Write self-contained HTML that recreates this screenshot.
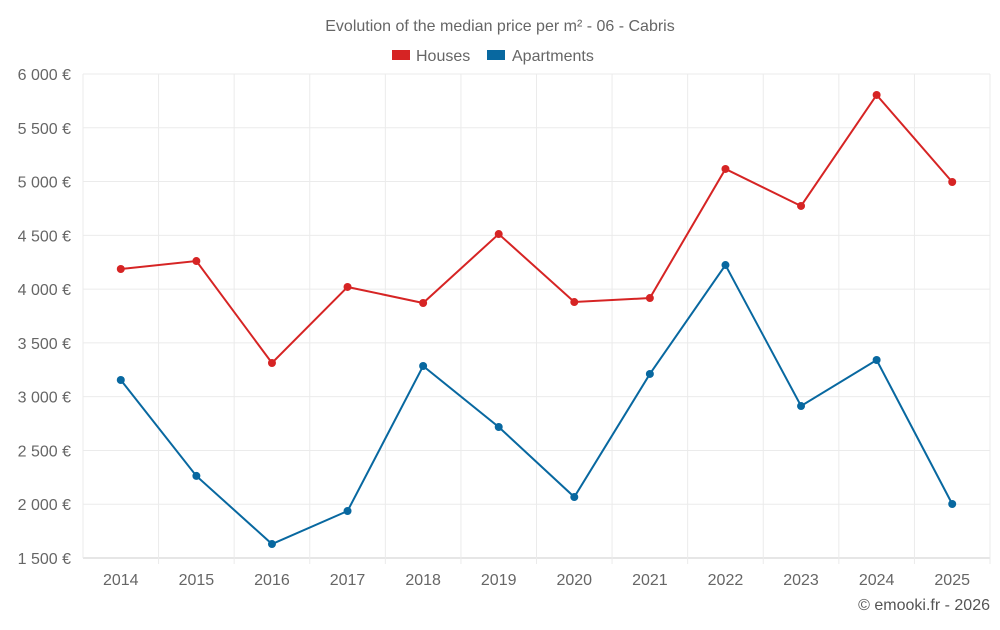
<!DOCTYPE html>
<html><head><meta charset="utf-8">
<style>
body{margin:0;background:#fff;font-family:"Liberation Sans",sans-serif;}
svg text{font-family:"Liberation Sans",sans-serif;}
</style></head>
<body>
<svg id="chart" width="1000" height="625" xmlns="http://www.w3.org/2000/svg">
<rect width="1000" height="625" fill="#fff"/>
<text x="500" y="31" text-anchor="middle" font-size="16" fill="#666">Evolution of the median price per m² - 06 - Cabris</text>
<g>
<g><rect x="392" y="50" width="18" height="10" fill="#d62424"/><text x="416" y="61" font-size="16" fill="#666">Houses</text></g>
<g><rect x="487" y="50" width="18" height="10" fill="#0868a0"/><text x="512" y="61" font-size="16" fill="#666">Apartments</text></g>
</g>
<g id="grid"></g><g id="axes"></g><g id="series"></g>
<text x="990" y="610" text-anchor="end" font-size="16" fill="#555">© emooki.fr - 2026</text>
</svg>
<script>
const years=['2014','2015','2016','2017','2018','2019','2020','2021','2022','2023','2024','2025'];
const houses=[4187,4261,3313,4020,3871,4512,3880,3917,5117,4773,5805,4996];
const apartments=[3155,2263,1630,1937,3285,2718,2067,3211,4224,2913,3341,2002];
const yTicks=[1500,2000,2500,3000,3500,4000,4500,5000,5500,6000];
const yTickLabels=['1 500 €','2 000 €','2 500 €','3 000 €','3 500 €','4 000 €','4 500 €','5 000 €','5 500 €','6 000 €'];
const L=83,R=990,T=74,B=558,yMin=1500,yMax=6000;
const bw=(R-L)/years.length;
function xs(i){return L+bw*(i+0.5);}
function ys(v){return B-(v-yMin)/(yMax-yMin)*(B-T);}
const NS='http://www.w3.org/2000/svg';
function mk(tag,attrs,parent){const e=document.createElementNS(NS,tag);for(const k in attrs)e.setAttribute(k,attrs[k]);parent.appendChild(e);return e;}
const grid=document.getElementById('grid'),axes=document.getElementById('axes'),series=document.getElementById('series');
yTicks.forEach((v,i)=>{
 const l=mk('line',{x1:L,x2:R,y1:ys(v),y2:ys(v),stroke:i==0?'#ccc':'#ebebeb','stroke-width':1},grid);
 
 
 const t=mk('text',{x:L-12,y:ys(v)+6,'text-anchor':'end','font-size':16,fill:'#666'},axes);
 t.textContent=yTickLabels[i];
 
 
});
for(let i=0;i<=years.length;i++){
 const x=L+bw*i;
 const l=mk('line',{x1:x,x2:x,y1:T,y2:B+(i==0?0:6),stroke:'#ebebeb','stroke-width':1},grid);
 
 
}
years.forEach((y,i)=>{
 const t=mk('text',{x:xs(i),y:585,'text-anchor':'middle','font-size':16,fill:'#666'},axes);
 t.textContent=y;
 
 
});
function draw(data,color,name){
 const p=mk('polyline',{points:data.map((v,i)=>xs(i)+','+ys(v)).join(' '),fill:'none',stroke:color,'stroke-width':2},series);
 
 
 data.forEach((v,i)=>{
  const c=mk('circle',{cx:xs(i),cy:ys(v),r:4,fill:color},series);
  
  
 });
}
draw(houses,'#d62424','houses');
draw(apartments,'#0868a0','apartments');
</script>
</body></html>
